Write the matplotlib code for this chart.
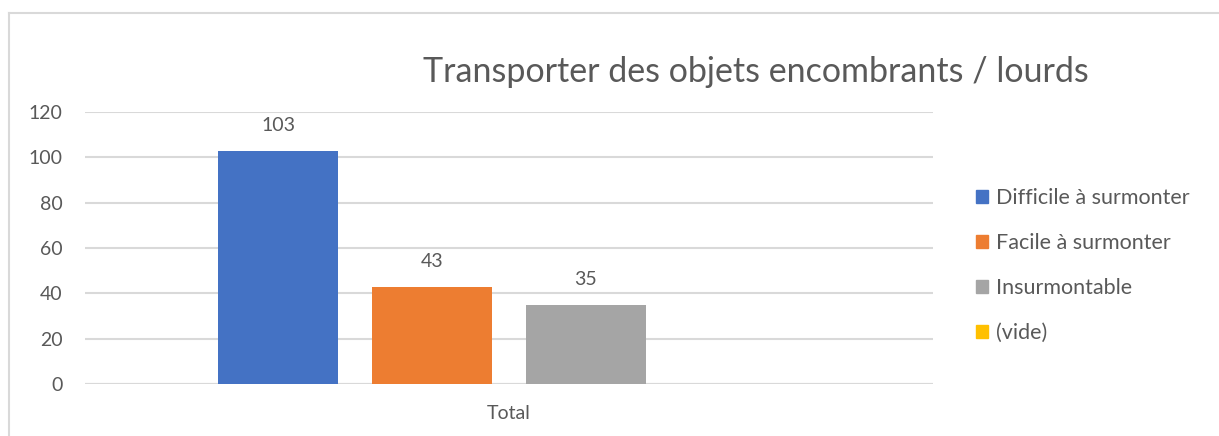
import matplotlib.pyplot as plt
import matplotlib.patches as mpatches
from matplotlib.lines import Line2D

# Données
categories = ["Total"]
series = ["Difficile à surmonter", "Facile à surmonter", "Insurmontable", "(vide)"]
values = [103, 43, 35, 0]
couleurs = ["#4472C4", "#ED7D31", "#A5A5A5", "#FFC000"]
yticks = [0, 20, 40, 60, 80, 100, 120]

GRIS_TEXTE = "#595959"
GRIS_GRILLE = "#D9D9D9"

plt.rcParams["font.family"] = ["Lato", "DejaVu Sans"]

W, H = 1219, 436
fig = plt.figure(figsize=(W / 100, H / 100), dpi=100)

# cadre du graphique (coupé à droite et en bas)
fig.add_artist(Line2D([9 / W, 9 / W], [0, 1 - 13 / H], transform=fig.transFigure,
                      color=GRIS_GRILLE, lw=1.5))
fig.add_artist(Line2D([9 / W, 1], [1 - 13 / H, 1 - 13 / H], transform=fig.transFigure,
                      color=GRIS_GRILLE, lw=1.5))

ax = fig.add_axes([85 / W, 52 / H, 848 / W, 272 / H])

largeur = 0.1415
pas = 0.1816
n = len(series)
for i, (nom, v, c) in enumerate(zip(series, values, couleurs)):
    x = (i - (n - 1) / 2) * pas
    ax.bar(x, v, width=largeur, color=c, label=nom, zorder=3)
    if v > 0:
        ax.annotate(str(v), (x, v), xytext=(0, 18), textcoords="offset points",
                    ha="center", va="center", fontsize=14, color=GRIS_TEXTE)

ax.set_xlim(-0.5, 0.5)
ax.set_ylim(0, 120)
ax.set_yticks(yticks)
ax.set_xticks([0])
ax.set_xticklabels(categories)
ax.yaxis.grid(True, color=GRIS_GRILLE, lw=1.5, zorder=0)
ax.tick_params(axis="both", length=0, labelsize=14, labelcolor=GRIS_TEXTE)
ax.tick_params(axis="y", pad=16)
ax.tick_params(axis="x", pad=15)
for s in ax.spines.values():
    s.set_visible(False)
ax.axhline(0, color=GRIS_GRILLE, lw=1.5, zorder=2)

fig.text(756 / W, 1 - 72 / H, "Transporter des objets encombrants / lourds",
         ha="center", va="center", fontsize=24.5, color=GRIS_TEXTE)

poignees = [mpatches.Patch(color=c) for c in couleurs]
leg = fig.legend(poignees, series, loc="upper left",
                 bbox_to_anchor=(957 / W, 1 - 169 / H), frameon=False,
                 fontsize=15.5, labelcolor=GRIS_TEXTE, handlelength=0.55,
                 handleheight=0.55, handletextpad=0.35, labelspacing=1.15)

fig.savefig("out.png", dpi=100)
